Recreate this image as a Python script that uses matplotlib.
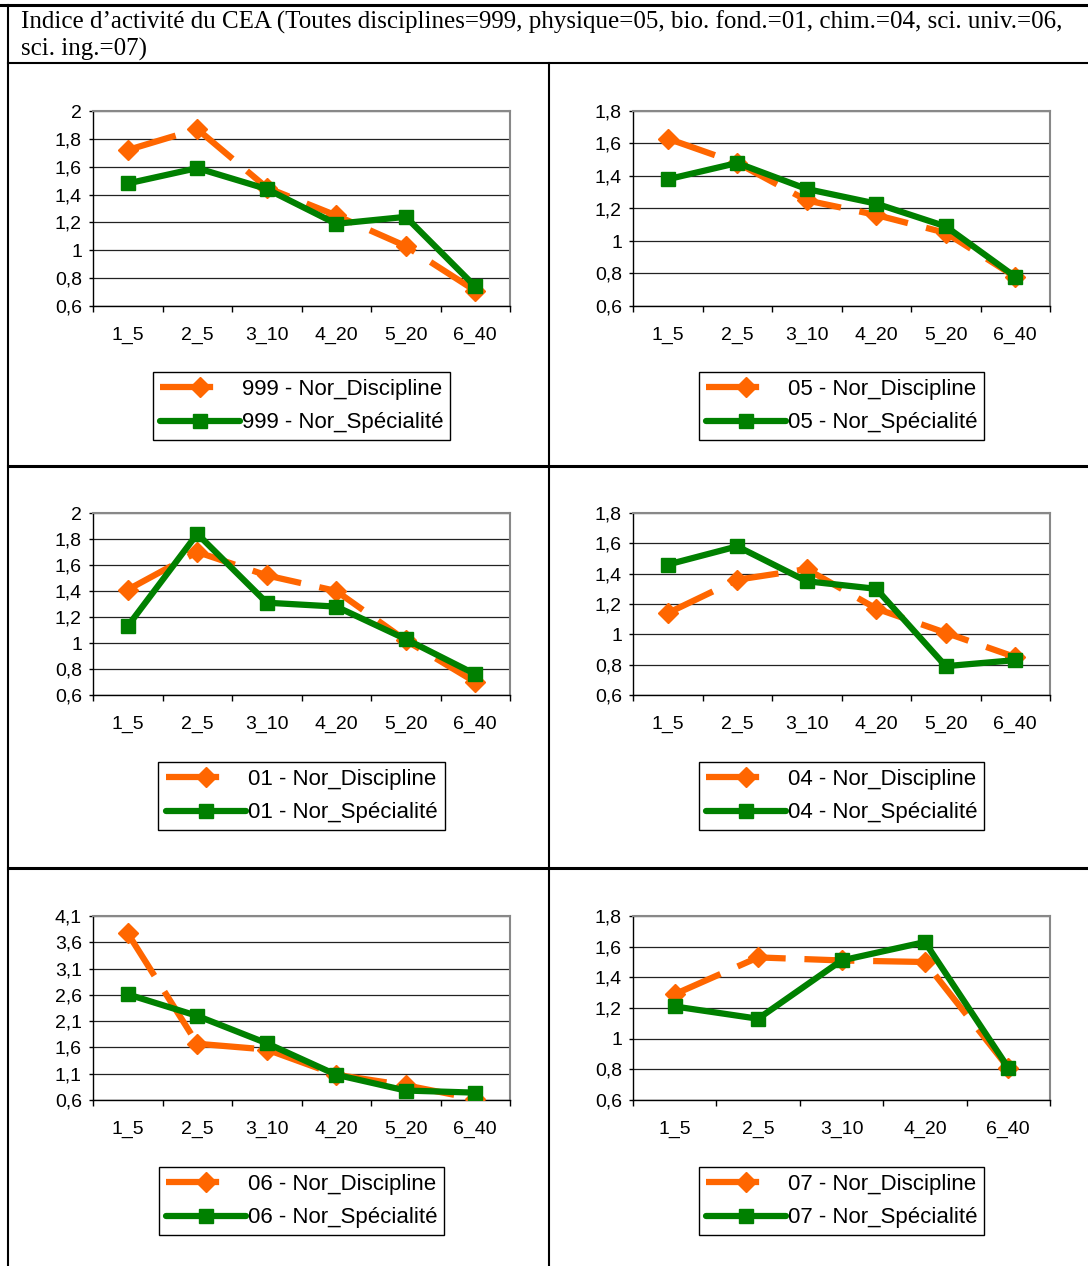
import numpy as np
import matplotlib.pyplot as plt
from matplotlib.lines import Line2D
from matplotlib.ticker import FuncFormatter

W = 1088
H = 1266

title_lines = ["Indice d\u2019activit\u00e9 du CEA (Toutes disciplines=999, physique=05, bio. fond.=01, chim.=04, sci. univ.=06,",
               "sci. ing.=07)"]

cats6 = ['1_5', '2_5', '3_10', '4_20', '5_20', '6_40']
cats5 = ['1_5', '2_5', '3_10', '4_20', '6_40']

disc_999 = [1.72, 1.87, 1.45, 1.25, 1.03, 0.71]
spec_999 = [1.48, 1.59, 1.44, 1.19, 1.24, 0.74]

disc_05 = [1.63, 1.48, 1.25, 1.16, 1.05, 0.78]
spec_05 = [1.38, 1.48, 1.32, 1.23, 1.09, 0.78]

disc_01 = [1.41, 1.70, 1.52, 1.40, 1.02, 0.70]
spec_01 = [1.13, 1.84, 1.31, 1.28, 1.03, 0.76]

disc_04 = [1.14, 1.36, 1.43, 1.17, 1.01, 0.85]
spec_04 = [1.46, 1.58, 1.35, 1.30, 0.79, 0.83]

disc_06 = [3.77, 1.67, 1.56, 1.08, 0.88, 0.62]
spec_06 = [2.61, 2.20, 1.68, 1.08, 0.78, 0.74]

disc_07 = [1.29, 1.53, 1.51, 1.50, 0.81]
spec_07 = [1.21, 1.13, 1.51, 1.63, 0.81]

panels = [
    (cats6, disc_999, spec_999, '999', (0.6, 2.0, 0.2)),
    (cats6, disc_05, spec_05, '05', (0.6, 1.8, 0.2)),
    (cats6, disc_01, spec_01, '01', (0.6, 2.0, 0.2)),
    (cats6, disc_04, spec_04, '04', (0.6, 1.8, 0.2)),
    (cats6, disc_06, spec_06, '06', (0.6, 4.1, 0.5)),
    (cats5, disc_07, spec_07, '07', (0.6, 1.8, 0.2)),
]

# axes boxes in pixels (x0, y0, x1, y1)
boxes = [
    (93, 111, 510, 306), (633, 111, 1050, 306),
    (93, 513, 510, 695), (633, 513, 1050, 695),
    (93, 916, 510, 1100), (633, 916, 1050, 1100),
]
leg_tops = [372, 372, 762, 762, 1167, 1167]

orange = '#FF6600'
green = '#008000'

plt.rcParams['font.family'] = ['Liberation Sans', 'DejaVu Sans']

fig = plt.figure(figsize=(W / 100, H / 100), dpi=100)


def fig_line(x0, y0, x1, y1, lw=1.5):
    fig.add_artist(Line2D([x0 / W, x1 / W], [1 - y0 / H, 1 - y1 / H],
                          color='black', lw=lw, transform=fig.transFigure))


# table grid
fig_line(0, 5, W, 5, 2.2)
fig_line(8, 5, 8, H, 1.5)
fig_line(8, 63, W, 63, 1.5)
fig_line(549, 63, 549, H, 1.5)
fig_line(8, 466, W, 466, 2.2)
fig_line(8, 868, W, 868, 2.2)

for i, line in enumerate(title_lines):
    fig.text(21 / W, 1 - (29 + 27 * i) / H, line, family='Liberation Serif',
             fontsize=18, va='baseline', ha='left')

comma = FuncFormatter(lambda v, p: ('%g' % round(v, 2)).replace('.', ','))

for (cats, disc, spec, code, (lo, hi, step)), (x0, y0, x1, y1), lt in zip(panels, boxes, leg_tops):
    ax = fig.add_axes([x0 / W, 1 - y1 / H, (x1 - x0) / W, (y1 - y0) / H])
    n = len(cats)
    x = np.arange(n)
    ax.plot(x, disc, color=orange, lw=4.5, dashes=(8, 3), dash_capstyle='butt',
            marker='D', ms=10, mec=orange, mfc=orange, zorder=3)
    ax.plot(x, spec, color=green, lw=4.5, solid_capstyle='round',
            marker='s', ms=10, mec=green, mfc=green, zorder=4)
    ax.set_xlim(-0.5, n - 0.5)
    ax.set_ylim(lo, hi)
    ax.set_yticks(np.arange(lo, hi + step / 2, step))
    ax.yaxis.set_major_formatter(comma)
    ax.set_xticks(np.arange(n + 1) - 0.5)
    ax.set_xticklabels([])
    ax.set_xticks(x, minor=True)
    ax.set_xticklabels(cats, minor=True)
    ax.tick_params(axis='x', which='major', direction='out', length=4, width=1)
    ax.tick_params(axis='x', which='minor', length=0, pad=15, labelsize=14)
    ax.tick_params(axis='y', direction='out', length=3, width=1, pad=5, labelsize=14)
    ax.grid(axis='y', color='#222222', lw=0.9)
    ax.set_axisbelow(True)
    for s in ['top', 'right']:
        ax.spines[s].set_color('#888888')
        ax.spines[s].set_linewidth(1.5)
    for s in ['left', 'bottom']:
        ax.spines[s].set_color('black')
        ax.spines[s].set_linewidth(1)

    # legend handles: orange shows a single dash, green a full solid line
    h_disc = Line2D([], [], color=orange, lw=4.5, dashes=(8.5, 6), dash_capstyle='butt',
                    marker='D', ms=10, mec=orange, mfc=orange)
    h_spec = Line2D([], [], color=green, lw=4.5, solid_capstyle='round',
                    marker='s', ms=10, mec=green, mfc=green)
    cx = (x0 + x1) / 2
    ax.legend([h_disc, h_spec],
              [code + ' - Nor_Discipline', code + ' - Nor_Sp\u00e9cialit\u00e9'],
              loc='upper center', bbox_to_anchor=(cx / W, 1 - lt / H),
              bbox_transform=fig.transFigure, fontsize=16, frameon=True,
              fancybox=False, edgecolor='black', framealpha=1,
              handlelength=3.6, handletextpad=0.1, borderpad=0.32,
              labelspacing=0.55, borderaxespad=0)

fig.savefig('out.png', dpi=100)
